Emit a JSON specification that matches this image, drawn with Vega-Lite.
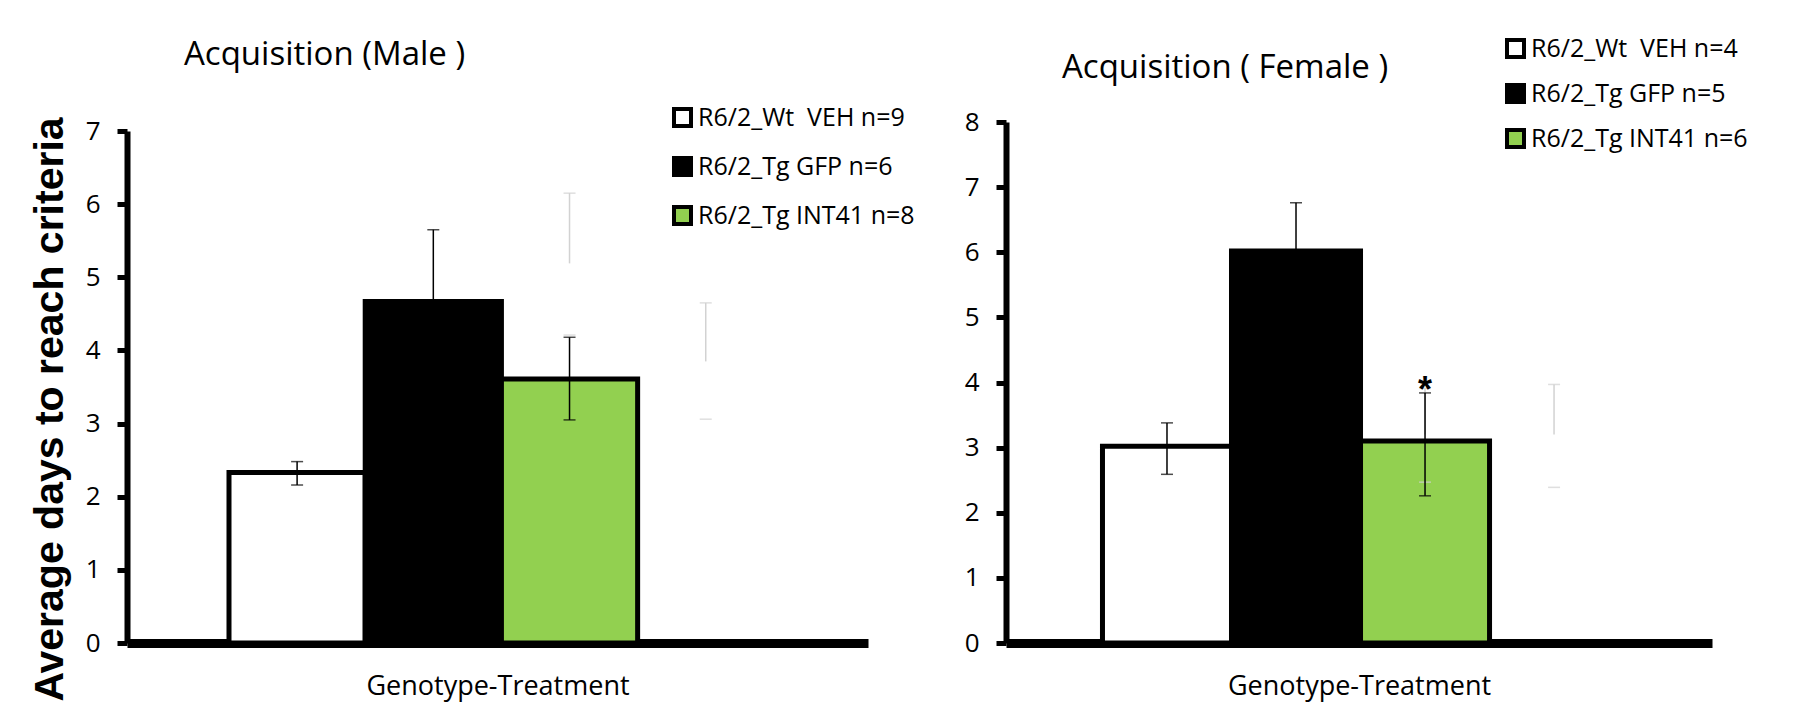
{
  "$schema": "https://vega.github.io/schema/vega-lite/v6.json",
  "background": "white",
  "autosize": {"type": "pad"},
  "padding": {"left": 28, "top": 36, "right": 0, "bottom": 0},
  "datasets": {
    "bars": [
      {"panel": "Male", "cat": "Genotype-Treatment", "grp": "1", "label": "R6/2_Wt\u00a0 VEH n=9", "mean": 2.33, "lo": 2.16, "hi": 2.48},
      {"panel": "Male", "cat": "Genotype-Treatment", "grp": "2", "label": "R6/2_Tg GFP n=6", "mean": 4.67, "lo": 3.69, "hi": 5.65},
      {"panel": "Male", "cat": "Genotype-Treatment", "grp": "3", "label": "R6/2_Tg INT41 n=8", "mean": 3.61, "lo": 3.05, "hi": 4.18},
      {"panel": "Female", "cat": "Genotype-Treatment", "grp": "1", "label": "R6/2_Wt\u00a0 VEH n=4", "mean": 3.02, "lo": 2.59, "hi": 3.38},
      {"panel": "Female", "cat": "Genotype-Treatment", "grp": "2", "label": "R6/2_Tg GFP n=5", "mean": 6.02, "lo": 5.29, "hi": 6.76},
      {"panel": "Female", "cat": "Genotype-Treatment", "grp": "3", "label": "R6/2_Tg INT41 n=6", "mean": 3.1, "lo": 2.26, "hi": 3.84, "sig": "*"}
    ],
    "ghostLines": [
      {"panel": "Male", "cat": "Genotype-Treatment", "grp": "3", "y": 5.19, "y2": 6.15},
      {"panel": "Male", "cat": "Genotype-Treatment", "grp": "4", "y": 3.85, "y2": 4.65},
      {"panel": "Female", "cat": "Genotype-Treatment", "grp": "3", "y": 3.2, "y2": 3.91},
      {"panel": "Female", "cat": "Genotype-Treatment", "grp": "4", "y": 3.2, "y2": 3.97}
    ],
    "ghostCaps": [
      {"panel": "Male", "cat": "Genotype-Treatment", "grp": "3", "y": 6.15},
      {"panel": "Male", "cat": "Genotype-Treatment", "grp": "3", "y": 4.21},
      {"panel": "Male", "cat": "Genotype-Treatment", "grp": "4", "y": 4.65},
      {"panel": "Male", "cat": "Genotype-Treatment", "grp": "4", "y": 3.06},
      {"panel": "Female", "cat": "Genotype-Treatment", "grp": "3", "y": 3.91},
      {"panel": "Female", "cat": "Genotype-Treatment", "grp": "3", "y": 2.47},
      {"panel": "Female", "cat": "Genotype-Treatment", "grp": "4", "y": 3.97},
      {"panel": "Female", "cat": "Genotype-Treatment", "grp": "4", "y": 2.39}
    ]
  },
  "config": {
    "view": {"stroke": null},
    "font": "Open Sans",
    "axis": {
      "domainColor": "black",
      "tickColor": "black",
      "labelColor": "black",
      "titleColor": "black",
      "labelFont": "Open Sans",
      "titleFont": "Open Sans",
      "grid": false
    },
    "axisY": {
      "domainWidth": 6,
      "tickWidth": 5,
      "tickSize": 10,
      "labelFontSize": 26,
      "labelPadding": 17,
      "format": "d"
    },
    "axisX": {
      "domainWidth": 9,
      "ticks": false,
      "labels": false,
      "titleFontSize": 27,
      "titleFontWeight": "normal",
      "titleBaseline": "alphabetic",
      "titlePadding": 51
    },
    "legend": {
      "orient": "none",
      "title": null,
      "symbolType": "square",
      "symbolSize": 289,
      "symbolStrokeColor": "black",
      "symbolStrokeWidth": 4,
      "labelFont": "Open Sans",
      "labelFontSize": 25,
      "labelColor": "black",
      "labelOffset": 3,
      "labelLimit": 400,
      "padding": 0
    }
  },
  "spacing": 138,
  "bounds": "flush",
  "resolve": {"scale": {"x": "independent", "xOffset": "independent", "y": "independent", "fill": "independent"}, "legend": {"fill": "independent"}},
  "hconcat": [
    {
      "width": 741,
      "height": 521,
      "title": {"text": "Acquisition (Male )", "anchor": "start", "frame": "group", "dx": 57, "offset": 7, "fontSize": 33, "font": "Open Sans", "fontWeight": "normal", "color": "black", "baseline": "alphabetic"},
      "layer": [
        {
          "data": {"name": "bars"},
          "transform": [{"filter": "datum.panel == 'Male'"}],
          "mark": {"type": "bar", "stroke": "black", "strokeWidth": 5},
          "encoding": {
            "x": {"field": "cat", "type": "nominal", "scale": {"paddingInner": 0, "paddingOuter": 0.18, "align": 0.52}, "axis": {"title": "Genotype-Treatment"}},
            "xOffset": {"field": "grp", "type": "nominal", "scale": {"domain": ["1", "2", "3", "4"], "paddingInner": 0, "paddingOuter": 0}},
            "y": {"field": "mean", "type": "quantitative", "scale": {"domain": [0, 7], "range": [521, 9], "nice": false}, "axis": {"values": [0, 1, 2, 3, 4, 5, 6, 7], "title": "Average days to reach criteria", "titleFont": "Liberation Sans", "titleFontWeight": "bold", "titleFontSize": 41, "titleAngle": 270, "titleBaseline": "alphabetic", "titleAlign": "center", "titleX": -65, "titleY": 287}},
            "fill": {"field": "label", "type": "nominal", "scale": {"domain": ["R6/2_Wt\u00a0 VEH n=9", "R6/2_Tg GFP n=6", "R6/2_Tg INT41 n=8"], "range": ["white", "black", "#92d050"]}, "legend": {"legendX": 543, "legendY": -17, "rowPadding": 16}}
          }
        },
        {
          "data": {"name": "ghostLines"},
          "transform": [{"filter": "datum.panel == 'Male'"}],
          "mark": {"type": "rule", "color": "#d2d2d2", "strokeWidth": 1.5},
          "encoding": {
            "x": {"field": "cat", "type": "nominal"},
            "xOffset": {"field": "grp", "type": "nominal"},
            "y": {"field": "y", "type": "quantitative"},
            "y2": {"field": "y2"}
          }
        },
        {
          "data": {"name": "ghostCaps"},
          "transform": [{"filter": "datum.panel == 'Male'"}],
          "mark": {"type": "tick", "color": "#d2d2d2", "thickness": 1.5, "size": 12, "orient": "horizontal"},
          "encoding": {
            "x": {"field": "cat", "type": "nominal"},
            "xOffset": {"field": "grp", "type": "nominal"},
            "y": {"field": "y", "type": "quantitative"}
          }
        },
        {
          "data": {"name": "bars"},
          "transform": [{"filter": "datum.panel == 'Male'"}],
          "mark": {"type": "rule", "color": "black", "strokeWidth": 1.5},
          "encoding": {
            "x": {"field": "cat", "type": "nominal"},
            "xOffset": {"field": "grp", "type": "nominal"},
            "y": {"field": "lo", "type": "quantitative"},
            "y2": {"field": "hi"}
          }
        },
        {
          "data": {"name": "bars"},
          "transform": [{"filter": "datum.panel == 'Male'"}],
          "mark": {"type": "tick", "color": "black", "thickness": 1.5, "size": 12, "orient": "horizontal"},
          "encoding": {
            "x": {"field": "cat", "type": "nominal"},
            "xOffset": {"field": "grp", "type": "nominal"},
            "y": {"field": "lo", "type": "quantitative"}
          }
        },
        {
          "data": {"name": "bars"},
          "transform": [{"filter": "datum.panel == 'Male'"}],
          "mark": {"type": "tick", "color": "black", "thickness": 1.5, "size": 12, "orient": "horizontal"},
          "encoding": {
            "x": {"field": "cat", "type": "nominal"},
            "xOffset": {"field": "grp", "type": "nominal"},
            "y": {"field": "hi", "type": "quantitative"}
          }
        }
      ]
    },
    {
      "width": 706,
      "height": 521,
      "title": {"text": "Acquisition ( Female )", "anchor": "start", "frame": "group", "dx": 56, "offset": -75, "fontSize": 33, "font": "Open Sans", "fontWeight": "normal", "color": "black", "baseline": "alphabetic"},
      "layer": [
        {
          "data": {"name": "bars"},
          "transform": [{"filter": "datum.panel == 'Female'"}],
          "mark": {"type": "bar", "stroke": "black", "strokeWidth": 5},
          "encoding": {
            "x": {"field": "cat", "type": "nominal", "scale": {"paddingInner": 0, "paddingOuter": 0.184, "align": 0.508}, "axis": {"title": "Genotype-Treatment"}},
            "xOffset": {"field": "grp", "type": "nominal", "scale": {"domain": ["1", "2", "3", "4"], "paddingInner": 0, "paddingOuter": 0}},
            "y": {"field": "mean", "type": "quantitative", "scale": {"domain": [0, 8], "nice": false}, "axis": {"values": [0, 1, 2, 3, 4, 5, 6, 7, 8], "title": null}},
            "fill": {"field": "label", "type": "nominal", "scale": {"domain": ["R6/2_Wt\u00a0 VEH n=4", "R6/2_Tg GFP n=5", "R6/2_Tg INT41 n=6"], "range": ["white", "black", "#92d050"]}, "legend": {"legendX": 497, "legendY": -86, "rowPadding": 12}}
          }
        },
        {
          "data": {"name": "ghostLines"},
          "transform": [{"filter": "datum.panel == 'Female'"}],
          "mark": {"type": "rule", "color": "#d2d2d2", "strokeWidth": 1.5},
          "encoding": {
            "x": {"field": "cat", "type": "nominal"},
            "xOffset": {"field": "grp", "type": "nominal"},
            "y": {"field": "y", "type": "quantitative"},
            "y2": {"field": "y2"}
          }
        },
        {
          "data": {"name": "ghostCaps"},
          "transform": [{"filter": "datum.panel == 'Female'"}],
          "mark": {"type": "tick", "color": "#d2d2d2", "thickness": 1.5, "size": 12, "orient": "horizontal"},
          "encoding": {
            "x": {"field": "cat", "type": "nominal"},
            "xOffset": {"field": "grp", "type": "nominal"},
            "y": {"field": "y", "type": "quantitative"}
          }
        },
        {
          "data": {"name": "bars"},
          "transform": [{"filter": "datum.panel == 'Female'"}],
          "mark": {"type": "rule", "color": "black", "strokeWidth": 1.5},
          "encoding": {
            "x": {"field": "cat", "type": "nominal"},
            "xOffset": {"field": "grp", "type": "nominal"},
            "y": {"field": "lo", "type": "quantitative"},
            "y2": {"field": "hi"}
          }
        },
        {
          "data": {"name": "bars"},
          "transform": [{"filter": "datum.panel == 'Female'"}],
          "mark": {"type": "tick", "color": "black", "thickness": 1.5, "size": 12, "orient": "horizontal"},
          "encoding": {
            "x": {"field": "cat", "type": "nominal"},
            "xOffset": {"field": "grp", "type": "nominal"},
            "y": {"field": "lo", "type": "quantitative"}
          }
        },
        {
          "data": {"name": "bars"},
          "transform": [{"filter": "datum.panel == 'Female'"}],
          "mark": {"type": "tick", "color": "black", "thickness": 1.5, "size": 12, "orient": "horizontal"},
          "encoding": {
            "x": {"field": "cat", "type": "nominal"},
            "xOffset": {"field": "grp", "type": "nominal"},
            "y": {"field": "hi", "type": "quantitative"}
          }
        },
        {
          "data": {"name": "bars"},
          "transform": [{"filter": "datum.panel == 'Female' && datum.sig"}],
          "mark": {"type": "text", "font": "Liberation Sans", "fontWeight": "bold", "fontSize": 36, "baseline": "alphabetic", "dy": 9, "color": "black"},
          "encoding": {
            "x": {"field": "cat", "type": "nominal"},
            "xOffset": {"field": "grp", "type": "nominal"},
            "y": {"field": "hi", "type": "quantitative"},
            "text": {"field": "sig"}
          }
        }
      ]
    }
  ]
}
